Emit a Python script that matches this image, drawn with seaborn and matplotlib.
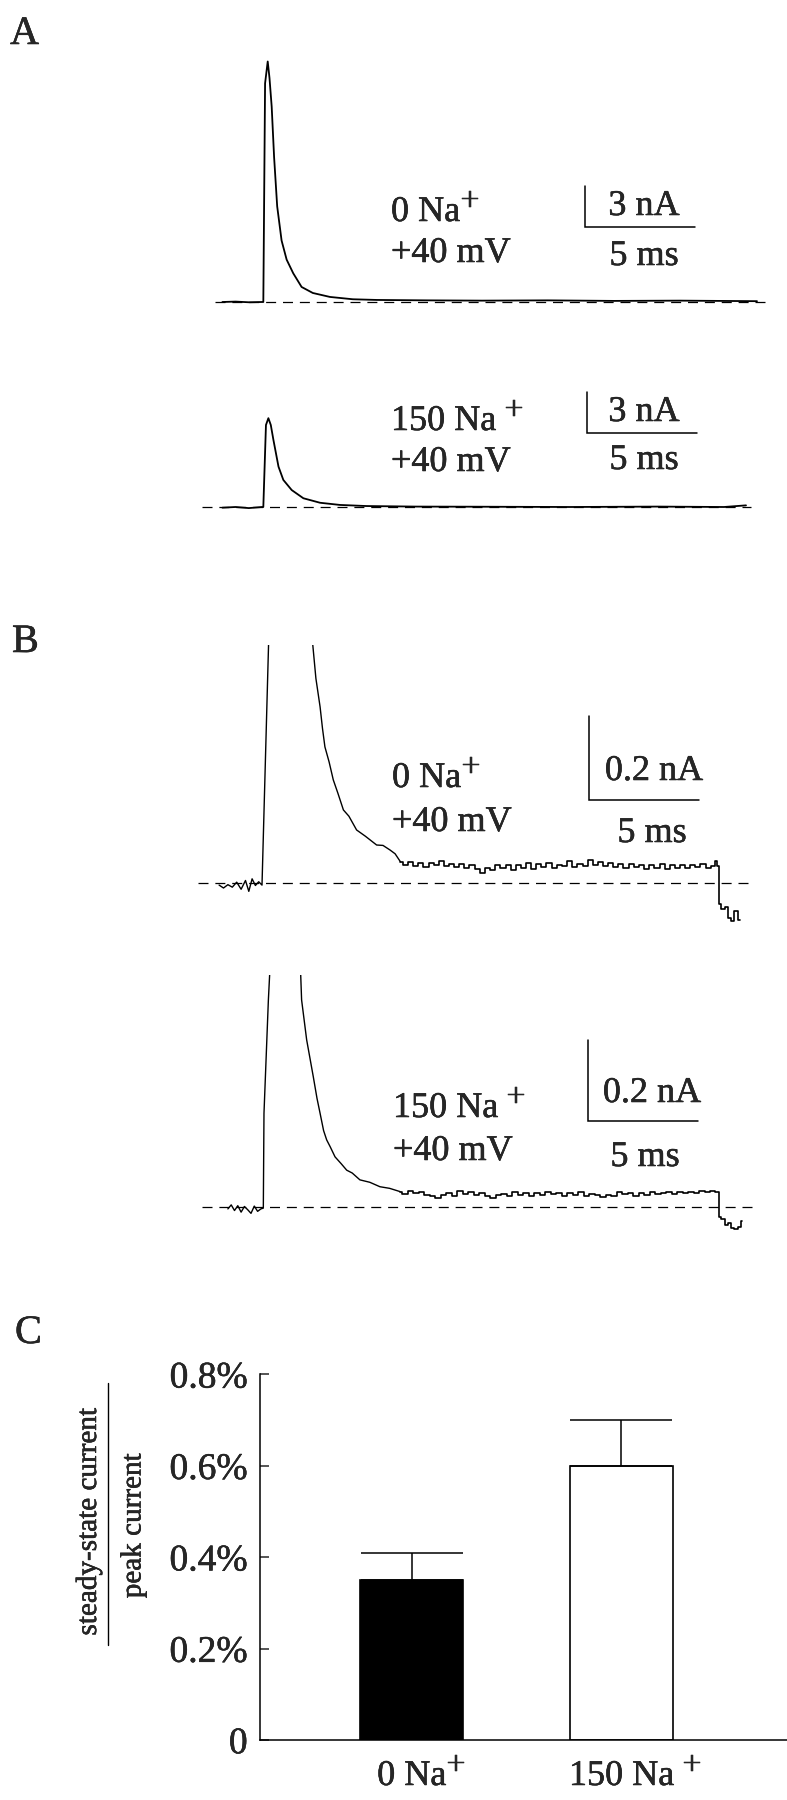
import matplotlib
matplotlib.use("Agg")
import matplotlib.pyplot as plt
import matplotlib.patheffects as pe
import seaborn as sns

sns.set_style("white")
plt.rcParams["font.family"] = ["Liberation Serif", "DejaVu Serif"]

# ---------------- data ----------------
# time in ms from the step onset, current in nA

# A - 0 Na+ (+40 mV)
a1_t = [-1.8, -1.2, -0.6, 0.0, 0.06, 0.14, 0.26, 0.34, 0.44, 0.55, 0.69, 0.89, 1.12,
        1.42, 1.8, 2.31, 3.09, 4.13, 5.22, 7.5, 10.0, 13.0, 16.0, 19.0, 22.5]
a1_i = [0.0, 0.03, -0.02, 0.0, 0.0, 16.0, 17.6, 16.4, 14.3, 10.6, 7.0, 4.5, 3.1,
        2.1, 1.1, 0.66, 0.37, 0.2, 0.15, 0.12, 0.1, 0.12, 0.08, 0.1, 0.06]

# A - 150 Na+ (+40 mV)
a2_t = [-1.8, -1.2, -0.6, 0.0, 0.06, 0.18, 0.29, 0.4, 0.52, 0.75, 0.97, 1.35, 1.88,
        2.64, 3.55, 4.76, 7.0, 10.0, 14.0, 18.0, 21.0, 22.0]
a2_i = [-0.05, 0.0, -0.08, 0.0, 0.0, 6.0, 6.5, 6.0, 4.9, 2.95, 1.98, 1.24, 0.64,
        0.31, 0.15, 0.07, 0.03, 0.02, 0.0, 0.03, 0.0, 0.12]

# B - 0 Na+, high gain (peak runs off the top)
b1_spike_t = [-1.95, -1.75, -1.55, -1.35, -1.15, -0.95, -0.75, -0.6, -0.45, -0.3, -0.15,
              0.0, 0.3, 1.0, 2.3, 2.45, 2.64, 2.75, 2.86, 3.05, 3.24, 3.45, 3.7, 3.95,
              4.3, 4.7, 5.21, 5.5, 5.82, 6.05, 6.29]
b1_spike_i = [-0.005, -0.012, -0.004, -0.01, 0.002, -0.015, 0.006, -0.02, 0.01, -0.006, 0.003,
              -0.005, 0.575, 17.6, 0.575, 0.49, 0.422, 0.37, 0.326, 0.29, 0.247, 0.215, 0.175, 0.16,
              0.127, 0.112, 0.091, 0.09, 0.079, 0.07, 0.051]
b1_tail_t = [6.29, 6.5, 6.75, 7.0, 7.2, 7.45, 7.7, 7.9, 8.15, 8.4,
             8.6, 8.85, 9.1, 9.3, 9.55, 9.8, 10.0, 10.25, 10.5, 10.7,
             10.95, 11.2, 11.4, 11.65, 11.9, 12.1, 12.35, 12.6, 12.8, 13.05,
             13.3, 13.5, 13.75, 14.0, 14.2, 14.45, 14.7, 14.9, 15.15, 15.4,
             15.6, 15.85, 16.1, 16.3, 16.55, 16.8, 17.0, 17.25, 17.5, 17.7,
             17.95, 18.2, 18.4, 18.65, 18.9, 19.1, 19.35, 19.6, 19.8, 20.05,
             20.3, 20.5, 20.65, 20.74, 20.8, 20.95, 21.1, 21.25, 21.4, 21.55,
             21.73]
b1_tail_i = [0.051, 0.042, 0.050, 0.040, 0.047, 0.038, 0.049, 0.043, 0.052, 0.041,
             0.046, 0.039, 0.045, 0.037, 0.044, 0.033, 0.024, 0.036, 0.030, 0.042,
             0.035, 0.044, 0.031, 0.043, 0.036, 0.047, 0.034, 0.045, 0.038, 0.048,
             0.036, 0.044, 0.040, 0.052, 0.039, 0.046, 0.041, 0.055, 0.043, 0.050,
             0.040, 0.047, 0.038, 0.045, 0.036, 0.046, 0.039, 0.044, 0.034, 0.043,
             0.037, 0.045, 0.033, 0.042, 0.036, 0.044, 0.035, 0.043, 0.038, 0.046,
             0.036, 0.041, 0.052, 0.040, -0.050, -0.062, -0.058, -0.085, -0.090, -0.066,
             -0.088]

# B - 150 Na+, high gain
b2_spike_t = [-1.55, -1.4, -1.25, -1.1, -0.95, -0.8, -0.65, -0.5, -0.35, -0.2, -0.05,
              0.06, 0.09, 0.29, 0.36, 1.0, 1.75, 1.8, 2.03, 2.33, 2.5, 2.64, 2.8, 2.94,
              3.1, 3.32, 3.6, 3.85, 4.1, 4.45, 4.9, 5.36, 5.8, 6.27]
b2_spike_i = [-0.004, 0.006, -0.008, 0.004, -0.012, 0.002, -0.006, -0.015, 0.003, -0.01, -0.004,
              -0.002, 0.233, 0.514, 0.59, 17.0, 0.59, 0.514, 0.415, 0.324, 0.27, 0.233, 0.19, 0.167,
              0.15, 0.125, 0.108, 0.092, 0.085, 0.068, 0.062, 0.051, 0.047, 0.039]
b2_tail_t = [6.27, 6.5, 6.75, 7.0, 7.25, 7.5, 7.75, 8.0, 8.25, 8.5,
             8.75, 9.0, 9.25, 9.5, 9.75, 10.0, 10.25, 10.5, 10.75, 11.0,
             11.25, 11.5, 11.75, 12.0, 12.25, 12.5, 12.75, 13.0, 13.25, 13.5,
             13.75, 14.0, 14.25, 14.5, 14.75, 15.0, 15.25, 15.5, 15.75, 16.0,
             16.25, 16.5, 16.75, 17.0, 17.25, 17.5, 17.75, 18.0, 18.25, 18.5,
             18.75, 19.0, 19.25, 19.5, 19.75, 20.0, 20.25, 20.5, 20.7, 20.8,
             20.95, 21.1, 21.25, 21.4, 21.55, 21.7, 21.8]
b2_tail_i = [0.039, 0.033, 0.041, 0.035, 0.038, 0.030, 0.027, 0.022, 0.030, 0.036,
             0.029, 0.040, 0.034, 0.038, 0.031, 0.036, 0.027, 0.022, 0.030, 0.034,
             0.028, 0.037, 0.031, 0.036, 0.029, 0.035, 0.030, 0.038, 0.032, 0.036,
             0.028, 0.035, 0.031, 0.037, 0.029, 0.034, 0.030, 0.026, 0.031, 0.029,
             0.037, 0.032, 0.035, 0.028, 0.036, 0.031, 0.038, 0.033, 0.036, 0.039,
             0.034, 0.038, 0.035, 0.039, 0.036, 0.040, 0.037, 0.041, 0.039, -0.025,
             -0.030, -0.044, -0.040, -0.052, -0.055, -0.048, -0.035]

# dashed zero-current lines (start, end) in ms
zero_a1 = [-2.14, 23.14]
zero_a2 = [-2.74, 22.23]
zero_b1 = [-2.93, 22.23]
zero_b2 = [-2.74, 22.45]

# scale bars
bar_ms = 5
bar_nA_A = 3
bar_nA_B = 0.2

# C - steady-state / peak current
conditions = ["0 Na", "150 Na"]
ratio = [0.35, 0.60]
ratio_err = [0.06, 0.10]
ratio_ticks = [0, 0.2, 0.4, 0.6, 0.8]
ratio_ticklabels = ["0", "0.2%", "0.4%", "0.6%", "0.8%"]

# ---------------- layout ----------------
W, H = 787, 1800
T0_PX, PX_PER_MS = 262, 22.0
fig = plt.figure(figsize=(W / 100, H / 100), dpi=100)
heavy = [pe.withStroke(linewidth=0.35, foreground="black")]


def trace_axes(top, bottom, base, px_per_nA):
    ax = fig.add_axes([0, 1 - bottom / H, 1, (bottom - top) / H])
    ax.axis("off")
    return ax, (-T0_PX / PX_PER_MS, (W - T0_PX) / PX_PER_MS), \
        (-(bottom - base) / px_per_nA, (base - top) / px_per_nA)


def draw_trace(ax, t, i, lw, steps=False):
    sns.lineplot(x=t, y=i, ax=ax, color="black", linewidth=lw, estimator=None,
                 sort=False, drawstyle="steps-mid" if steps else "default")


def zero_line(ax, span):
    ax.hlines(0, span[0], span[1], colors="black", linewidth=0.9,
              linestyles=(0, (8, 5.5)))


def scale_bar(ax, t0, i0, di):
    ax.plot([t0, t0, t0 + bar_ms], [i0 + di, i0, i0], color="black", lw=1.1,
            solid_joinstyle="miter")


# overlay in pixel units for the text
ov = fig.add_axes([0, 0, 1, 1], zorder=10)
ov.set_xlim(0, W)
ov.set_ylim(H, 0)
ov.axis("off")

FS = 26


def txt(x, y, s, size=FS, ha="left", **kw):
    return ov.text(x, y, s, fontsize=size, ha=ha, va="baseline", path_effects=heavy, **kw)


def na_label(x, y, head, gap, size=FS, ha="left", transform=None):
    if transform is None:
        t = txt(x, y, head, size=size, ha=ha)
    else:
        t = ov.text(x, y, head, fontsize=size, ha=ha, va="baseline", transform=transform,
                    path_effects=heavy)
    ov.annotate("+", xy=(1, 0), xycoords=t, xytext=(gap, 19), textcoords="offset pixels",
                fontsize=size * 0.95, ha="left", va="baseline", path_effects=heavy)


# ---- panel A ----
ax, xl, yl = trace_axes(40, 330, 302, 41 / 3)
zero_line(ax, zero_a1)
draw_trace(ax, a1_t, a1_i, 1.3)
scale_bar(ax, 14.68, 5.49, bar_nA_A)
ax.set_xlim(xl); ax.set_ylim(yl)

ax, xl, yl = trace_axes(340, 530, 507, 41 / 3)
zero_line(ax, zero_a2)
draw_trace(ax, a2_t, a2_i, 1.3)
scale_bar(ax, 14.76, 5.44, bar_nA_A)
ax.set_xlim(xl); ax.set_ylim(yl)

txt(10, 44, "A", size=29)
na_label(391, 221, "0 Na", 0)
txt(391, 262, "+40 mV")
txt(644, 215, "3 nA", ha="center")
txt(644, 265, "5 ms", ha="center")
na_label(391, 430, "150 Na", 8)
txt(391, 471, "+40 mV")
txt(644, 421, "3 nA", ha="center")
txt(644, 469, "5 ms", ha="center")

# ---- panel B ----
ax, xl, yl = trace_axes(645, 940, 883, 83.5 / 0.2)
zero_line(ax, zero_b1)
draw_trace(ax, b1_spike_t, b1_spike_i, 1.0)
draw_trace(ax, b1_tail_t, b1_tail_i, 1.2, steps=True)
scale_bar(ax, 14.88, 0.199, bar_nA_B)
ax.set_xlim(xl); ax.set_ylim(yl)

ax, xl, yl = trace_axes(975, 1260, 1207.3, 80.7 / 0.2)
zero_line(ax, zero_b2)
draw_trace(ax, b2_spike_t, b2_spike_i, 1.0)
draw_trace(ax, b2_tail_t, b2_tail_i, 1.2, steps=True)
scale_bar(ax, 14.83, 0.2146, bar_nA_B)
ax.set_xlim(xl); ax.set_ylim(yl)

txt(12, 652, "B", size=29)
na_label(392, 787, "0 Na", 0)
txt(392, 831, "+40 mV")
txt(654, 780, "0.2 nA", ha="center")
txt(652, 842, "5 ms", ha="center")
na_label(393, 1117, "150 Na", 8)
txt(393, 1160, "+40 mV")
txt(652, 1102, "0.2 nA", ha="center")
txt(645, 1166, "5 ms", ha="center")

# ---- panel C ----
axc = fig.add_axes([260 / W, 1 - 1740 / H, (W - 260) / W, (1740 - 1374.3) / H])
sns.barplot(x=conditions, y=ratio, hue=conditions, palette=["black", "white"],
            edgecolor="black", linewidth=1.2, width=0.49, legend=False, ax=axc)
axc.errorbar(x=[0, 1], y=ratio, yerr=[[0, 0], ratio_err], fmt="none", ecolor="black",
             elinewidth=1.1, capsize=37, capthick=1.1, zorder=3)
axc.set_ylim(0, 0.8)
axc.set_xlim(-0.723, 1.789)
axc.set_yticks(ratio_ticks, labels=ratio_ticklabels)
axc.set_xticks([])
axc.set_xlabel("")
axc.set_ylabel("")
axc.tick_params(axis="y", direction="in", length=6.5, width=1.1, labelsize=27, pad=9,
                left=True)
for lab in axc.get_yticklabels():
    lab.set_path_effects(heavy)
for s in ["top", "right"]:
    axc.spines[s].set_visible(False)
for s in ["left", "bottom"]:
    axc.spines[s].set_linewidth(1.1)
    axc.spines[s].set_color("black")
for i, c in enumerate(conditions):
    na_label(i, -0.123, c, 0 if i == 0 else 8, ha="center",
             transform=axc.get_xaxis_transform())

txt(15, 1343, "C", size=29)
ov.text(89, 1522, "steady-state current", fontsize=21, rotation=90, ha="center",
        va="center", path_effects=heavy)
ov.plot([108.3, 108.3], [1383, 1645], color="black", lw=1.0)
ov.text(133.5, 1526, "peak current", fontsize=21, rotation=90, ha="center", va="center",
        path_effects=heavy)

fig.savefig("out.png", dpi=100, facecolor="white")
